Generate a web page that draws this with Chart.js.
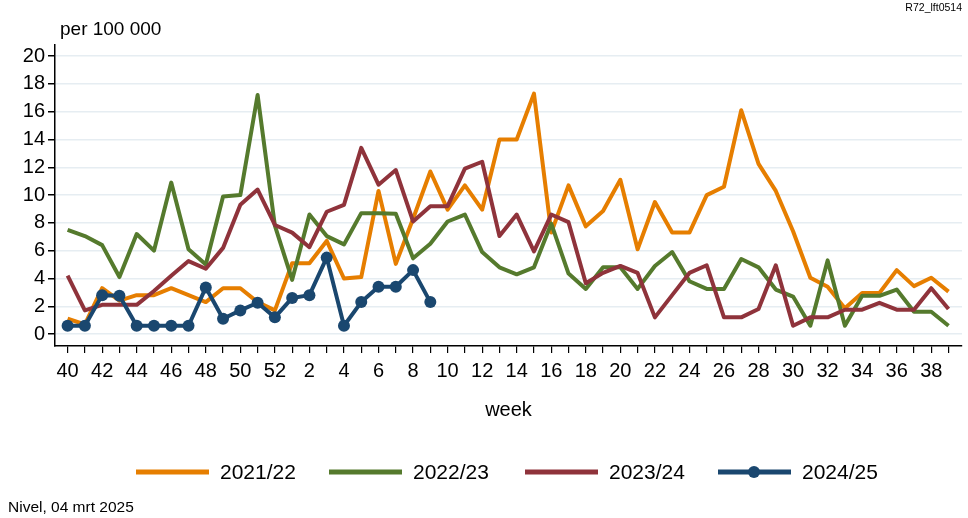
<!DOCTYPE html>
<html>
<head>
<meta charset="utf-8">
<script src="https://cdn.jsdelivr.net/npm/chart.js@4.4.1/dist/chart.umd.min.js"></script>
<style>
  body { margin: 0; background: #fff; }
  canvas { display: block; }
</style>
</head>
<body>
<canvas id="myChart" width="968" height="518"></canvas>
<script>
// weken van week 40 t/m week 39
const weeks = [40,41,42,43,44,45,46,47,48,49,50,51,52,1,2,3,4,5,6,7,8,9,10,11,12,13,14,15,16,17,18,19,20,21,22,23,24,25,26,27,28,29,30,31,32,33,34,35,36,37,38,39];
const yTicks = [0,2,4,6,8,10,12,14,16,18,20];

const s2122 = [1.1,0.7,3.3,2.4,2.8,2.8,3.3,2.8,2.3,3.3,3.3,2.3,
    1.7,5.1,5.1,6.7,4.0,4.1,10.3,5.05,8.3,11.7,8.95,10.7,
    8.95,14.0,14.0,17.3,7.3,10.7,7.75,8.85,11.1,6.1,9.5,7.3,7.3,
    10.0,10.6,16.1,12.25,10.3,7.4,4.05,3.4,1.85,2.95,2.95,4.6,3.45,4.05,3.05];
const s2223 = [7.5,7.05,6.4,4.1,7.2,6.0,10.9,6.1,5.0,9.9,10.0,17.2,
    7.8,3.9,8.6,7.05,6.45,8.7,8.7,8.65,5.45,6.5,8.1,8.6,
    5.9,4.8,4.3,4.8,7.95,4.35,3.25,4.8,4.8,3.25,4.9,5.9,3.8,
    3.25,3.25,5.4,4.8,3.2,2.7,0.6,5.3,0.6,2.75,2.75,3.2,1.6,1.6,0.6];
const s2324 = [4.2,1.7,2.1,2.1,2.1,3.1,4.2,5.25,4.7,6.2,9.3,10.4,
    7.85,7.3,6.25,8.8,9.3,13.4,10.75,11.8,8.1,9.2,9.2,11.9,
    12.4,7.05,8.6,5.95,8.6,8.05,3.65,4.4,4.9,4.4,1.2,2.8,4.4,
    4.95,1.2,1.2,1.8,4.95,0.6,1.2,1.2,1.75,1.75,2.25,1.75,1.75,3.3,1.8];
const s2425 = [0.6,0.6,2.8,2.75,0.6,0.6,0.6,0.6,3.35,1.1,1.7,2.25,
    1.2,2.6,2.8,5.5,0.6,2.3,3.4,3.4,4.6,2.3];

const seasons = ["2021/22","2022/23","2023/24","2024/25"];
const colors = ["#e67e00","#557a2d","#8f333b","#1a476f"];
const series = [s2122, s2223, s2324, s2425];

const FONT = "'Liberation Sans', Arial, sans-serif";

function toXY(vals) {
    return vals.map((v, i) => ({ x: i, y: v }));
}

const extraText = {
    id: 'extraText',
    afterDraw(chart) {
        const ctx = chart.ctx;
        ctx.save();
        ctx.fillStyle = '#000';
        ctx.textBaseline = 'middle';
        ctx.font = '19px ' + FONT;
        ctx.textAlign = 'left';
        ctx.fillText('per 100 000', 60, 30);
        ctx.font = '10.5px ' + FONT;
        ctx.textAlign = 'right';
        ctx.fillText('R72_lft0514', 962, 8);
        ctx.font = '15.5px ' + FONT;
        ctx.textAlign = 'left';
        ctx.fillText('Nivel, 04 mrt 2025', 8, 508);

        // legenda
        const starts = [136, 329, 525, 718];
        const ly = 472;
        ctx.font = '21px ' + FONT;
        seasons.forEach((s, i) => {
            const x0 = starts[i];
            ctx.strokeStyle = colors[i];
            ctx.lineWidth = 5;
            ctx.beginPath();
            ctx.moveTo(x0, ly);
            ctx.lineTo(x0 + 73, ly);
            ctx.stroke();
            if (i === 3) {
                ctx.fillStyle = colors[i];
                ctx.beginPath();
                ctx.arc(x0 + 36, ly, 6, 0, Math.PI * 2);
                ctx.fill();
            }
            ctx.fillStyle = '#000';
            ctx.fillText(s, x0 + 84, ly + 1);
        });
        ctx.restore();
    }
};

new Chart("myChart", {
    type: "line",
    data: {
        datasets: series.map((vals, i) => ({
            label: seasons[i],
            data: toXY(vals),
            borderColor: colors[i],
            backgroundColor: colors[i],
            borderWidth: 4,
            borderJoinStyle: 'round',
            pointRadius: i === 3 ? 6 : 0,
            pointBorderWidth: 0,
            tension: 0,
            order: 4 - i
        }))
    },
    options: {
        responsive: false,
        animation: false,
        layout: { padding: { left: 0, right: 6, top: 45, bottom: 88 } },
        plugins: {
            legend: { display: false },
            tooltip: { enabled: false }
        },
        scales: {
            x: {
                type: 'linear',
                min: -0.73,
                max: 51.78,
                afterBuildTicks: axis => { axis.ticks = weeks.map((w, i) => ({ value: i })); },
                afterFit: s => { s.height = 84; },
                ticks: {
                    autoSkip: false,
                    maxRotation: 0,
                    color: '#000',
                    font: { family: FONT, size: 20 },
                    padding: 6,
                    callback: (v) => (v % 2 === 0 ? String(weeks[v]) : '')
                },
                grid: { drawOnChartArea: false, tickColor: '#000', tickLength: 7, lineWidth: 1.2 },
                border: { color: '#000', width: 1.5 },
                title: {
                    display: true,
                    text: 'week',
                    color: '#000',
                    font: { family: FONT, size: 20 },
                    padding: { top: 0, bottom: 8 }
                }
            },
            y: {
                min: -0.86,
                max: 20.8,
                afterBuildTicks: axis => { axis.ticks = yTicks.map(v => ({ value: v })); },
                afterFit: s => { s.width = 55; },
                ticks: {
                    color: '#000',
                    font: { family: FONT, size: 20 },
                    padding: 3
                },
                grid: { color: '#e6edf2', lineWidth: 1.5, tickColor: '#000', tickLength: 7 },
                border: { color: '#000', width: 1.5 }
            }
        }
    },
    plugins: [extraText]
});
</script>
</body>
</html>
